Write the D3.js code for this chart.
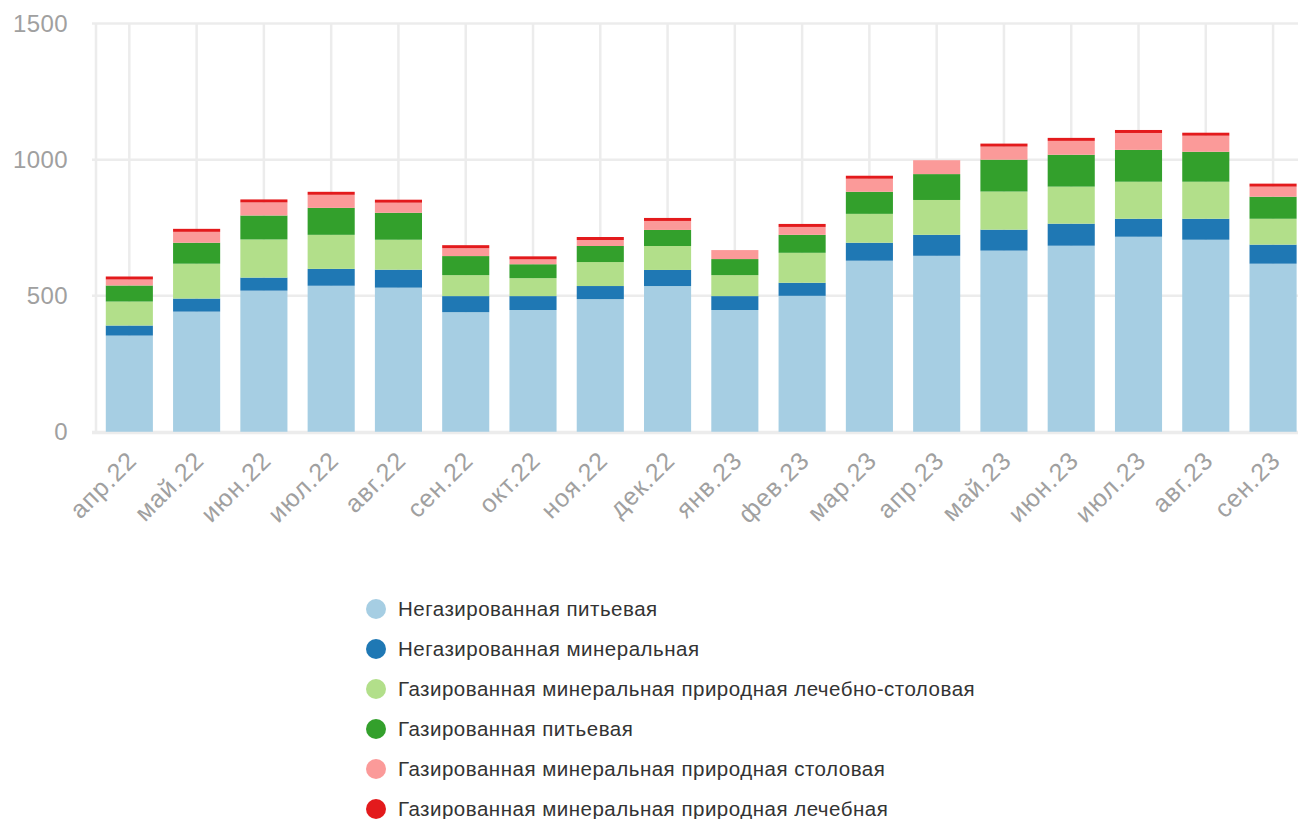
<!DOCTYPE html>
<html>
<head>
<meta charset="utf-8">
<script src="https://cdn.jsdelivr.net/npm/d3@7"></script>
<style>
  html, body { margin: 0; padding: 0; background: #fff; overflow: hidden; }
  svg { display: block; font-family: "Liberation Sans", Arial, Helvetica, sans-serif; }
</style>
</head>
<body>
<svg id="chart" width="1298" height="819"></svg>
<script>
// Months (x categories)
const months = ["апр.22","май.22","июн.22","июл.22","авг.22","сен.22","окт.22","ноя.22","дек.22",
                "янв.23","фев.23","мар.23","апр.23","май.23","июн.23","июл.23","авг.23","сен.23"];

// Series names (stack order, bottom to top)
const seriesNames = [
  "Негазированная питьевая",
  "Негазированная минеральная",
  "Газированная минеральная природная лечебно-столовая",
  "Газированная питьевая",
  "Газированная минеральная природная столовая",
  "Газированная минеральная природная лечебная"
];

// Series values per month
const stillDrinking      = [354, 442, 519, 537, 530, 440, 448, 488, 536, 448, 500, 629, 647, 666, 684, 717, 706, 618];
const stillMineral       = [ 37,  48,  48,  62,  66,  59,  51,  48,  59,  51,  48,  66,  77,  77,  81,  66,  77,  70];
const sparklingMedTable  = [ 88, 128, 140, 125, 110,  77,  66,  88,  88,  77, 110, 106, 128, 140, 136, 136, 136,  95];
const sparklingDrinking  = [ 59,  77,  88,  99,  99,  70,  51,  59,  59,  59,  66,  81,  95, 117, 117, 117, 110,  81];
const sparklingTable     = [ 22,  40,  48,  48,  37,  29,  18,  22,  33,  33,  29,  48,  51,  48,  51,  62,  59,  37];
const sparklingMedicinal = [ 11,  11,  11,  11,  11,  11,  11,  11,  11,   0,  11,  11,   0,  11,  11,  11,  11,  11];

const yTicks = [0, 500, 1000, 1500];

const colors = ["#a6cee3", "#1f78b4", "#b2df8a", "#33a02c", "#fb9a99", "#e31a1c"];

const seriesValues = [stillDrinking, stillMineral, sparklingMedTable, sparklingDrinking, sparklingTable, sparklingMedicinal];
const keys = seriesNames;
const table = months.map((m, i) => {
  const row = { month: m };
  keys.forEach((k, s) => { row[k] = seriesValues[s][i]; });
  return row;
});

const svg = d3.select("#chart");

const x = d3.scaleBand()
  .domain(months)
  .range([95.7, 1306.7])
  .paddingInner(0.3)
  .paddingOuter(0.15);

const y = d3.scaleLinear()
  .domain([0, 1500])
  .range([432, 23.5]);

const grid = svg.append("g").attr("class", "grid");
const gridColor = "#ececec";

// horizontal gridlines
grid.selectAll("line.h")
  .data(yTicks)
  .join("line")
  .attr("class", "h")
  .attr("x1", 92).attr("x2", 1298)
  .attr("y1", d => y(d)).attr("y2", d => y(d))
  .attr("stroke", gridColor)
  .attr("stroke-width", 2.5);

// vertical gridlines at category centers
grid.selectAll("line.v")
  .data(months)
  .join("line")
  .attr("class", "v")
  .attr("x1", d => x(d) + x.bandwidth() / 2)
  .attr("x2", d => x(d) + x.bandwidth() / 2)
  .attr("y1", y(1500)).attr("y2", y(0))
  .attr("stroke", gridColor)
  .attr("stroke-width", 2.5);

// left axis line
grid.append("line")
  .attr("x1", 96).attr("x2", 96)
  .attr("y1", y(1500)).attr("y2", y(0))
  .attr("stroke", gridColor)
  .attr("stroke-width", 2.5);

// stacked bars
const stack = d3.stack().keys(keys);
const stacked = stack(table);

svg.append("g")
  .selectAll("g")
  .data(stacked)
  .join("g")
  .attr("fill", (d, i) => colors[i])
  .selectAll("rect")
  .data(d => d)
  .join("rect")
  .attr("x", d => x(d.data.month))
  .attr("width", x.bandwidth())
  .attr("y", d => y(d[1]))
  .attr("height", d => Math.max(0, y(d[0]) - y(d[1])));

// baseline drawn over the bar bottoms
svg.append("line")
  .attr("x1", 92).attr("x2", 1298)
  .attr("y1", y(0) + 1).attr("y2", y(0) + 1)
  .attr("stroke", gridColor)
  .attr("stroke-width", 2.5);

// y axis labels
const yAxis = d3.axisLeft(y).tickValues(yTicks).tickSize(0).tickPadding(0).tickFormat(d3.format("d"));
const gy = svg.append("g")
  .attr("transform", "translate(68,0)")
  .call(yAxis);
gy.select(".domain").remove();
gy.selectAll("text")
  .attr("fill", "#a0a0a0")
  .attr("font-size", 24)
  .attr("letter-spacing", 0.4)
  .attr("font-family", "Liberation Sans, Arial, sans-serif");

// x axis labels (rotated)
const xAxis = d3.axisBottom(x).tickSize(0).tickPadding(0);
const gx = svg.append("g")
  .call(xAxis);
gx.select(".domain").remove();
gx.selectAll(".tick").attr("transform", d => `translate(${x(d) + x.bandwidth() / 2},0)`);
gx.selectAll("text")
  .attr("fill", "#a0a0a0")
  .attr("font-size", 25)
  .attr("letter-spacing", 1)
  .attr("font-family", "Liberation Sans, Arial, sans-serif")
  .attr("text-anchor", "end")
  .attr("dy", null)
  .attr("y", 0)
  .attr("transform", "translate(9,462) rotate(-45)");

// legend
const legend = svg.append("g")
  .selectAll("g")
  .data(seriesNames)
  .join("g")
  .attr("transform", (d, i) => `translate(376,${609 + i * 40})`);

legend.append("circle")
  .attr("r", 10)
  .attr("fill", (d, i) => colors[i]);

legend.append("text")
  .attr("x", 22)
  .attr("dy", "0.35em")
  .attr("fill", "#333")
  .attr("font-size", 20.5)
  .attr("letter-spacing", 0.5)
  .text(d => d);
</script>
</body>
</html>
